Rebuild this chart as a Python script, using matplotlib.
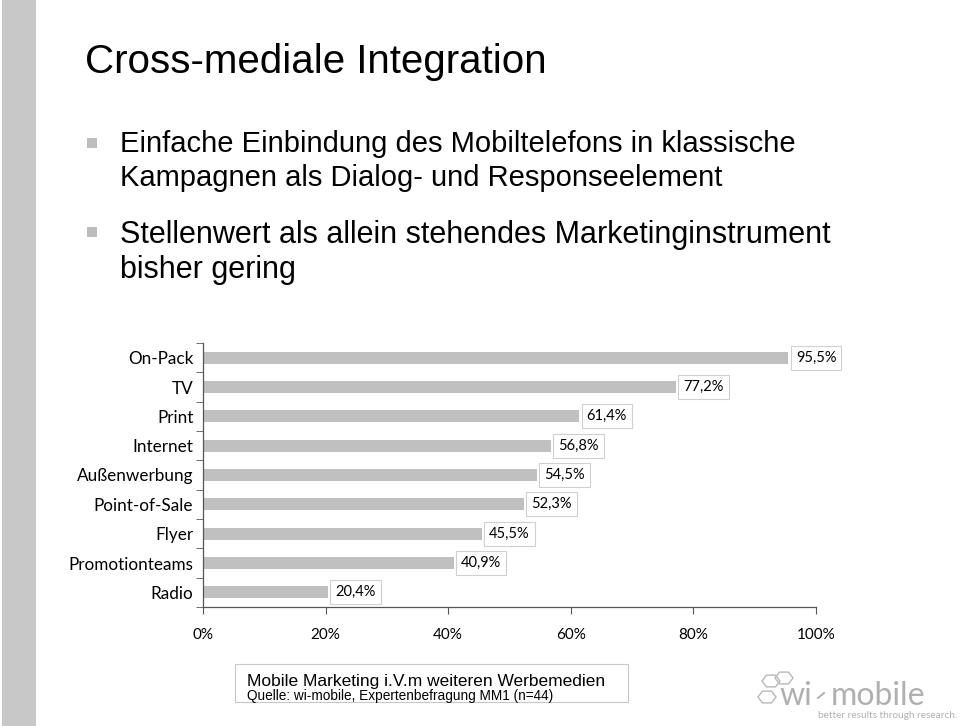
import matplotlib.pyplot as plt
from matplotlib.patches import Rectangle, RegularPolygon
from matplotlib.lines import Line2D

# data (top to bottom as in the chart)
kategorien = ['On-Pack', 'TV', 'Print', 'Internet', 'Außenwerbung',
              'Point-of-Sale', 'Flyer', 'Promotionteams', 'Radio']
werte = [95.5, 77.2, 61.4, 56.8, 54.5, 52.3, 45.5, 40.9, 20.4]
xticks = [0, 20, 40, 60, 80, 100]

arial = ['Liberation Sans', 'DejaVu Sans']
label_font = ['Lato', 'DejaVu Sans']

W, H = 960, 726
fig = plt.figure(figsize=(9.6, 7.26), dpi=100)


def fx(px):
    return px / W


def fy(py):
    return 1 - py / H


# gray strip at the left side of the slide
fig.patches.append(Rectangle((fx(2), 0), fx(34), 1, transform=fig.transFigure,
                             facecolor='#c8c8c8', edgecolor='none'))

# title and bullets
fig.text(fx(85), fy(73), 'Cross-mediale Integration', fontsize=29,
         family=arial, va='baseline', ha='left')

bullets = [('Einfache Einbindung des Mobiltelefons in klassische', 152, 21),
           ('Kampagnen als Dialog- und Responseelement', 186, 21),
           ('Stellenwert als allein stehendes Marketinginstrument', 243, 22),
           ('bisher gering', 278, 22)]
for txt, y, fs in bullets:
    fig.text(fx(120), fy(y), txt, fontsize=fs, family=arial,
             va='baseline', ha='left')
for y in [138, 227]:
    fig.patches.append(Rectangle((fx(87), fy(y + 10)), fx(10), 10 / H,
                                 transform=fig.transFigure, facecolor='#bdbdbd',
                                 edgecolor='none'))

# chart
ax = fig.add_axes([fx(203), 119 / H, fx(613), 264 / H])
ypos = list(range(len(kategorien)))[::-1]
ax.barh(ypos, werte, height=0.42, color='#c0c0c0', edgecolor='none')
for y, v in zip(ypos, werte):
    ax.text(v + 1.2, y, ('%.1f%%' % v).replace('.', ','), fontsize=10.5,
            family=label_font, va='center', ha='left',
            bbox=dict(boxstyle='square,pad=0.35', facecolor='white',
                      edgecolor='#d0d0d0', linewidth=0.8))

ax.set_xlim(0, 100)
ax.set_ylim(-0.5, len(kategorien) - 0.5)
ax.set_xticks(xticks)
ax.set_xticklabels(['%d%%' % t for t in xticks], fontsize=11, family=label_font)
ax.set_yticks(ypos)
ax.set_yticklabels(kategorien, fontsize=12.3, family=label_font)
ax.set_yticks([i - 0.5 for i in range(len(kategorien) + 1)], minor=True)
ax.tick_params(axis='y', which='major', length=0, pad=7)
ax.tick_params(axis='y', which='minor', length=5, direction='out', color='#555555')
ax.tick_params(axis='x', length=5, direction='out', color='#555555', pad=10)
for s in ['top', 'right']:
    ax.spines[s].set_visible(False)
for s in ['left', 'bottom']:
    ax.spines[s].set_color('#555555')
    ax.spines[s].set_linewidth(0.9)

# source box
fig.patches.append(Rectangle((fx(235), fy(702)), fx(393), 38 / H,
                             transform=fig.transFigure, facecolor='white',
                             edgecolor='#c8c8c8', linewidth=0.8))
fig.text(fx(247), fy(686), 'Mobile Marketing i.V.m weiteren Werbemedien',
         fontsize=12.5, family=arial, va='baseline', ha='left')
fig.text(fx(247), fy(700), 'Quelle: wi-mobile, Expertenbefragung MM1 (n=44)',
         fontsize=9.8, family=arial, va='baseline', ha='left')

# logo
grau = '#b0b0b0'
fig.text(fx(779), fy(705), 'wi', fontsize=23, color=grau, family=label_font,
         va='baseline', ha='left')
fig.text(fx(831), fy(705), 'mobile', fontsize=23, color=grau, family=label_font,
         va='baseline', ha='left')
fig.lines.append(Line2D([fx(818), fx(824)], [fy(698), fy(693)],
                        transform=fig.transFigure, color=grau, linewidth=1.4))
fig.text(fx(957), fy(715), 'better results through research.', fontsize=7.2,
         color=grau, family=label_font, va='center', ha='right')
for cx, cy in [(771, 681), (784, 678), (767, 697)]:
    fig.patches.append(RegularPolygon((fx(cx), fy(cy)), 6, radius=fx(9),
                                      orientation=0.5236,
                                      transform=fig.transFigure, facecolor='none',
                                      edgecolor='#b8b8b8', linewidth=1))

fig.savefig('out.png', dpi=100)
